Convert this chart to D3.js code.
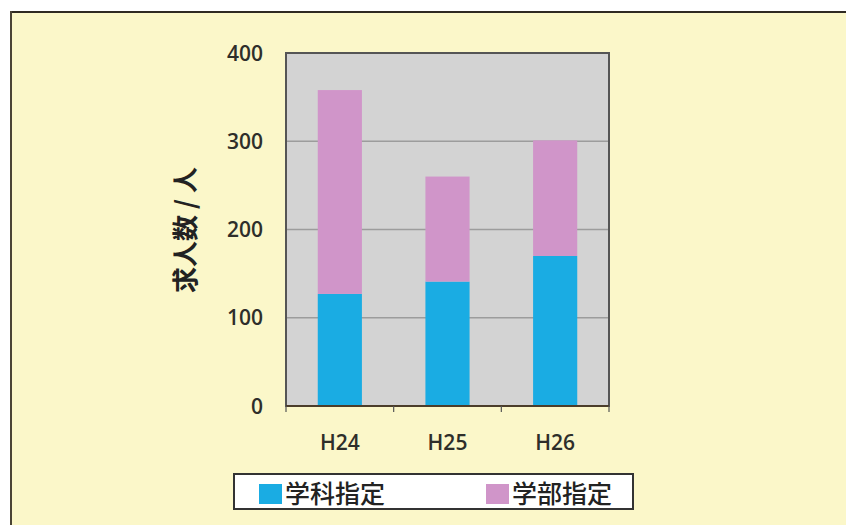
<!DOCTYPE html>
<html>
<head>
<meta charset="utf-8">
<script src="https://cdn.jsdelivr.net/npm/d3@7"></script>
<style>
  html, body { margin: 0; padding: 0; background: #ffffff; }
  svg { display: block; }
</style>
</head>
<body>
<svg id="chart" width="846" height="525"></svg>
<script>
// Job offers per year, split by how the offer was designated
const years = ["H24", "H25", "H26"];
const seriesNames = ["学科指定", "学部指定"];
const gakkaValues = [127, 141, 170];   // 学科指定
const gakubuValues = [231, 119, 131];  // 学部指定
const yTicks = [0, 100, 200, 300, 400];
const seriesColors = ["#1aace3", "#d095c9"];
const yLabel = "求人数 / 人";

const svg = d3.select("#chart");

// Panel background with dark top/left edges
svg.append("rect").attr("x", 10).attr("y", 11).attr("width", 836).attr("height", 514)
  .attr("fill", "#fbf7c9");
svg.append("line").attr("x1", 10).attr("x2", 846).attr("y1", 12).attr("y2", 12)
  .attr("stroke", "#2f2a22").attr("stroke-width", 2);
svg.append("line").attr("x1", 11).attr("x2", 11).attr("y1", 11).attr("y2", 525)
  .attr("stroke", "#4a4436").attr("stroke-width", 2);

const plot = { left: 286, top: 53, right: 609, bottom: 406 };

const x = d3.scaleBand().domain(years).range([plot.left, plot.right])
  .paddingInner(0.59).paddingOuter(0.295);
const xOuter = d3.scaleBand().domain(years).range([plot.left, plot.right]);
const y = d3.scaleLinear().domain([0, 400]).range([plot.bottom, plot.top]);

// Plot area
svg.append("rect")
  .attr("x", plot.left).attr("y", plot.top)
  .attr("width", plot.right - plot.left).attr("height", plot.bottom - plot.top)
  .attr("fill", "#d3d3d3");

// Horizontal gridlines
svg.append("g")
  .selectAll("line")
  .data(yTicks.filter(t => t > 0 && t < 400))
  .join("line")
  .attr("x1", plot.left).attr("x2", plot.right)
  .attr("y1", d => y(d)).attr("y2", d => y(d))
  .attr("stroke", "#9c9c9c").attr("stroke-width", 1.5);

// Stacked bars
const rows = years.map((yr, i) => ({ year: yr, a: gakkaValues[i], b: gakubuValues[i] }));
const stacked = d3.stack().keys(["a", "b"])(rows);

svg.append("g")
  .selectAll("g")
  .data(stacked)
  .join("g")
  .attr("fill", (d, i) => seriesColors[i])
  .selectAll("rect")
  .data(d => d)
  .join("rect")
  .attr("x", d => x(d.data.year))
  .attr("width", x.bandwidth())
  .attr("y", d => y(d[1]))
  .attr("height", d => y(d[0]) - y(d[1]));

// Plot border
svg.append("rect")
  .attr("x", plot.left).attr("y", plot.top)
  .attr("width", plot.right - plot.left).attr("height", plot.bottom - plot.top)
  .attr("fill", "none").attr("stroke", "#555555").attr("stroke-width", 2);

// Bottom axis: ticks at category boundaries, labels centred under bars
const boundaries = years.map(yr => xOuter(yr)).concat([plot.right]);
svg.append("line")
  .attr("x1", plot.left).attr("x2", plot.right)
  .attr("y1", plot.bottom).attr("y2", plot.bottom)
  .attr("stroke", "#4b3d2a").attr("stroke-width", 2);
svg.append("g")
  .selectAll("line")
  .data(boundaries)
  .join("line")
  .attr("x1", d => d).attr("x2", d => d)
  .attr("y1", plot.bottom).attr("y2", plot.bottom + 6)
  .attr("stroke", "#555555").attr("stroke-width", 1.2);

const labelFont = "'Open Sans', 'DejaVu Sans', sans-serif";

svg.append("g")
  .selectAll("text")
  .data(years)
  .join("text")
  .attr("x", d => x(d) + x.bandwidth() / 2)
  .attr("y", 450)
  .attr("text-anchor", "middle")
  .attr("font-family", labelFont)
  .attr("font-size", 21)
  .attr("font-weight", 600)
  .attr("fill", "#2e2e2a")
  .text(d => d);

// Left axis labels
svg.append("g")
  .selectAll("text")
  .data(yTicks)
  .join("text")
  .attr("x", 263)
  .attr("y", d => y(d))
  .attr("dy", "0.36em")
  .attr("text-anchor", "end")
  .attr("font-family", labelFont)
  .attr("font-size", 21)
  .attr("font-weight", 600)
  .attr("fill", "#2e2e2a")
  .text(d => d);

// Y axis title
svg.append("text")
  .attr("transform", "translate(195,230) rotate(-90)")
  .attr("text-anchor", "middle")
  .attr("font-family", "'Noto Sans CJK JP', sans-serif")
  .attr("font-size", 26)
  .attr("font-weight", 700)
  .attr("fill", "#222222")
  .text(yLabel);

// Legend
const legend = svg.append("g");
legend.append("rect")
  .attr("x", 234).attr("y", 474).attr("width", 399).attr("height", 35)
  .attr("fill", "#ffffff").attr("stroke", "#333333").attr("stroke-width", 2);
const legendX = [259, 486];
const items = legend.selectAll("g.item")
  .data(seriesNames)
  .join("g")
  .attr("class", "item")
  .attr("transform", (d, i) => `translate(${legendX[i]},0)`);
items.append("rect")
  .attr("x", 0).attr("y", 484).attr("width", 23).attr("height", 20)
  .attr("fill", (d, i) => seriesColors[i]);
items.append("text")
  .attr("x", 26).attr("y", 503)
  .attr("font-family", "'Noto Sans CJK JP', sans-serif")
  .attr("font-size", 25)
  .attr("font-weight", 500)
  .attr("fill", "#222222")
  .text(d => d);
</script>
</body>
</html>
